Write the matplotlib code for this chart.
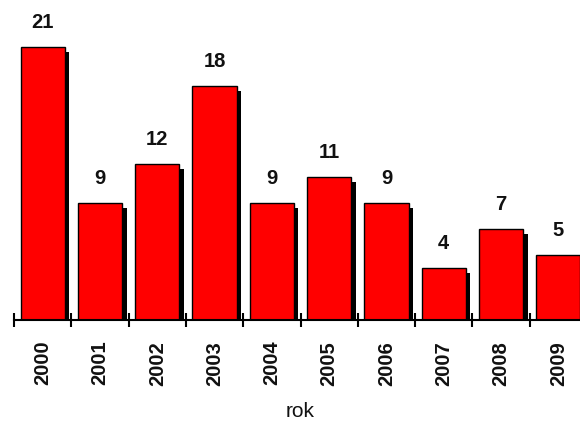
import matplotlib
matplotlib.use("Agg")
import matplotlib.pyplot as plt
import matplotlib.patheffects as pe
import numpy as np

years = ["2000", "2001", "2002", "2003", "2004", "2005", "2006", "2007", "2008", "2009"]
values = [21, 9, 12, 18, 9, 11, 9, 4, 7, 5]

plt.rcParams['font.family'] = ['Liberation Sans', 'DejaVu Sans']

fig = plt.figure(figsize=(5.8, 4.23), dpi=100)
W, H = 580, 423
ax_left, ax_right = 14, 587
ax_bottom, ax_top = 320, 0
ax = fig.add_axes([ax_left / W, (H - ax_bottom) / H, (ax_right - ax_left) / W, (ax_bottom - ax_top) / H])

x = np.arange(len(years))
bars = ax.bar(x, values, width=0.77, color='#ff0000', edgecolor='black', linewidth=1.0,
              path_effects=[pe.SimplePatchShadow(offset=(3.3, -3.3), shadow_rgbFace='black', alpha=1.0), pe.Normal()])

for xi, v in zip(x, values):
    ax.text(xi, v + 1.9, str(v), ha='center', va='center', fontsize=14.5, fontweight='bold', color='#111111')

ax.set_xlim(-0.5, len(years) - 0.5)
ax.set_ylim(0, 320 / 13.0)

for s in ['left', 'top', 'right']:
    ax.spines[s].set_visible(False)
ax.spines['bottom'].set_linewidth(1.5)
ax.set_yticks([])

ax.set_xticks(x)
ax.set_xticklabels(years, rotation=90, fontsize=14.5, fontweight='bold', color='#111111')
ax.tick_params(axis='x', which='major', length=0, pad=15)
ax.set_xticks(np.arange(-0.5, len(years), 1.0), minor=True)
ax.tick_params(axis='x', which='minor', length=10, width=1.5, direction='inout')

fig.text(300 / W, 1 - 411 / H, "rok", ha='center', va='center', fontsize=15, color='#111111')

fig.savefig("out.png", dpi=100)
